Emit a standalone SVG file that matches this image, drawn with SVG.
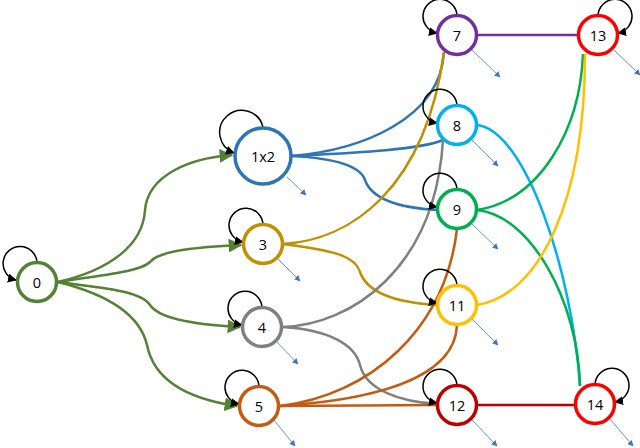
<svg xmlns="http://www.w3.org/2000/svg" width="640" height="448" viewBox="0 0 640 448">
<defs>
<marker id="ag" viewBox="0 0 10 10" refX="9" refY="5" markerWidth="5.5" markerHeight="5.5" orient="auto" markerUnits="strokeWidth"><path d="M0,0 L10,5 L0,10 z" fill="#548235"/></marker>
<marker id="ak" viewBox="0 0 10 10" refX="9" refY="5" markerWidth="6" markerHeight="6" orient="auto" markerUnits="strokeWidth"><path d="M0,0 L10,5 L0,10 z" fill="#000"/></marker>
<marker id="ab" viewBox="0 0 10 10" refX="9" refY="5" markerWidth="6" markerHeight="6" orient="auto" markerUnits="strokeWidth"><path d="M0,0 L10,5 L0,10 z" fill="#4472c4"/></marker>
</defs>
<style>
.n{fill:#fff;stroke-width:3.5}
.t{font-family:"Open Sans","Liberation Sans",sans-serif;font-size:14.5px;text-anchor:middle;dominant-baseline:central;fill:#000}
.e{fill:none;stroke-width:2.5}
.g{stroke:#548235;marker-end:url(#ag)}
.loop{fill:none;stroke:#000;stroke-width:1.5;marker-end:url(#ak)}
.o{fill:none;stroke:#5b9bd5;stroke-width:1;marker-end:url(#ab)}
</style>
<rect width="640" height="448" fill="#fff"/>
<g id="connectors">
<path class="e g" d="M58,282 C110,270 143,245 145,210 C148,175 190,158 232,155"/>
<path class="e g" d="M58,282 C100,275 140,272 150,262 C160,250 200,247 241,245"/>
<path class="e g" d="M58,282 C100,288 140,290 150,305 C160,320 200,325 240,327"/>
<path class="e g" d="M58,282 C110,295 140,315 147,345 C155,385 195,400 237,406"/>
<path class="e" stroke="#2e75b6" d="M292,156 C360,150 440,120 444,52"/>
<path class="e" stroke="#2e75b6" d="M292,156 C350,153 420,150 443,140"/>
<path class="e" stroke="#2e75b6" d="M292,156 C330,158 360,165 365,180 C372,200 400,208 438,210"/>
<path class="e" stroke="#bf9000" d="M283,244 C350,240 425,190 444,52"/>
<path class="e" stroke="#bf9000" d="M283,244 C330,250 355,255 360,272 C368,295 400,303 438,305"/>
<path class="e" stroke="#808080" d="M283,327 C350,325 435,270 443,140"/>
<path class="e" stroke="#808080" d="M283,327 C330,330 355,345 360,365 C366,390 400,402 438,404"/>
<path class="e" stroke="#c55a11" stroke-width="2" d="M280,406 C370,395 445,330 457,229"/>
<path class="e" stroke="#c55a11" stroke-width="2" d="M280,406 C370,400 455,380 457,325"/>
<path class="e" stroke="#c55a11" stroke-width="2" d="M280,406 L438,405"/>
<path class="e" stroke="#7030a0" d="M477,35 L578,35"/>
<path class="e" stroke="#00b0f0" d="M477,125 C525,130 572,270 580,386"/>
<path class="e" stroke="#00b050" d="M477,210 C540,200 580,130 583,54"/>
<path class="e" stroke="#00b050" d="M477,210 C530,215 578,300 580,386"/>
<path class="e" stroke="#ffc000" d="M477,305 C540,295 585,200 585,54"/>
<path class="e" stroke="#c00000" d="M477,405 L576,405"/>
<path class="loop" d="M37,262 A17,17 0 1 0 16,280"/>
<path class="loop" d="M263,127 A22,22 0 1 0 234,153"/>
<path class="loop" d="M263,225 A17,17 0 1 0 243,242"/>
<path class="loop" d="M262,308 A17,17 0 1 0 242,325"/>
<path class="loop" d="M259,387 A17,17 0 1 0 239,404"/>
<path class="loop" d="M457,16 A17,17 0 1 0 437,33"/>
<path class="loop" d="M457,106 A17,17 0 1 0 437,123"/>
<path class="loop" d="M457,190 A17,17 0 1 0 437,207"/>
<path class="loop" d="M457,286 A17,17 0 1 0 437,303"/>
<path class="loop" d="M457,386 A17,17 0 1 0 437,403"/>
<path class="loop" d="M598,16 A17,17 0 1 1 618,33"/>
<path class="loop" d="M595,385 A17,17 0 1 1 615,402"/>
<path class="o" d="M287,177 L306,195"/>
<path class="o" d="M277,258 L300,281"/>
<path class="o" d="M276,341 L298,364"/>
<path class="o" d="M274,420 L295,446"/>
<path class="o" d="M472,50 L500,77"/>
<path class="o" d="M472,140 L498,166"/>
<path class="o" d="M472,224 L498,249"/>
<path class="o" d="M472,319 L498,345"/>
<path class="o" d="M472,420 L497,446"/>
<path class="o" d="M614,50 L640,75"/>
<path class="o" d="M610,419 L633,446"/>
</g>
<g id="n0"><circle class="n" cx="37" cy="282" r="19.5" stroke="#548235"/><text class="t" x="37" y="282">0</text></g>
<g id="n1x2"><circle class="n" cx="263" cy="156" r="28" stroke="#2e75b6"/><text class="t" x="263" y="156">1x2</text></g>
<g id="n3"><circle class="n" cx="263" cy="244" r="19.5" stroke="#bf9000"/><text class="t" x="263" y="244">3</text></g>
<g id="n4"><circle class="n" cx="262" cy="327" r="19.5" stroke="#808080"/><text class="t" x="262" y="327">4</text></g>
<g id="n5"><circle class="n" cx="259" cy="406" r="19.5" stroke="#c55a11"/><text class="t" x="259" y="406">5</text></g>
<g id="n7"><circle class="n" cx="457" cy="35" r="19.5" stroke="#7030a0"/><text class="t" x="457" y="35">7</text></g>
<g id="n8"><circle class="n" cx="457" cy="125" r="19.5" stroke="#00b0f0"/><text class="t" x="457" y="125">8</text></g>
<g id="n9"><circle class="n" cx="457" cy="209" r="19.5" stroke="#00b050"/><text class="t" x="457" y="209">9</text></g>
<g id="n11"><circle class="n" cx="457" cy="305" r="19.5" stroke="#ffc000"/><text class="t" x="457" y="305">11</text></g>
<g id="n12"><circle class="n" cx="457" cy="405" r="19.5" stroke="#c00000"/><text class="t" x="457" y="405">12</text></g>
<g id="n13"><circle class="n" cx="598" cy="35" r="19.5" stroke="#ff0000"/><text class="t" x="598" y="35">13</text></g>
<g id="n14"><circle class="n" cx="595" cy="404" r="19.5" stroke="#ff0000"/><text class="t" x="595" y="404">14</text></g>
</svg>
